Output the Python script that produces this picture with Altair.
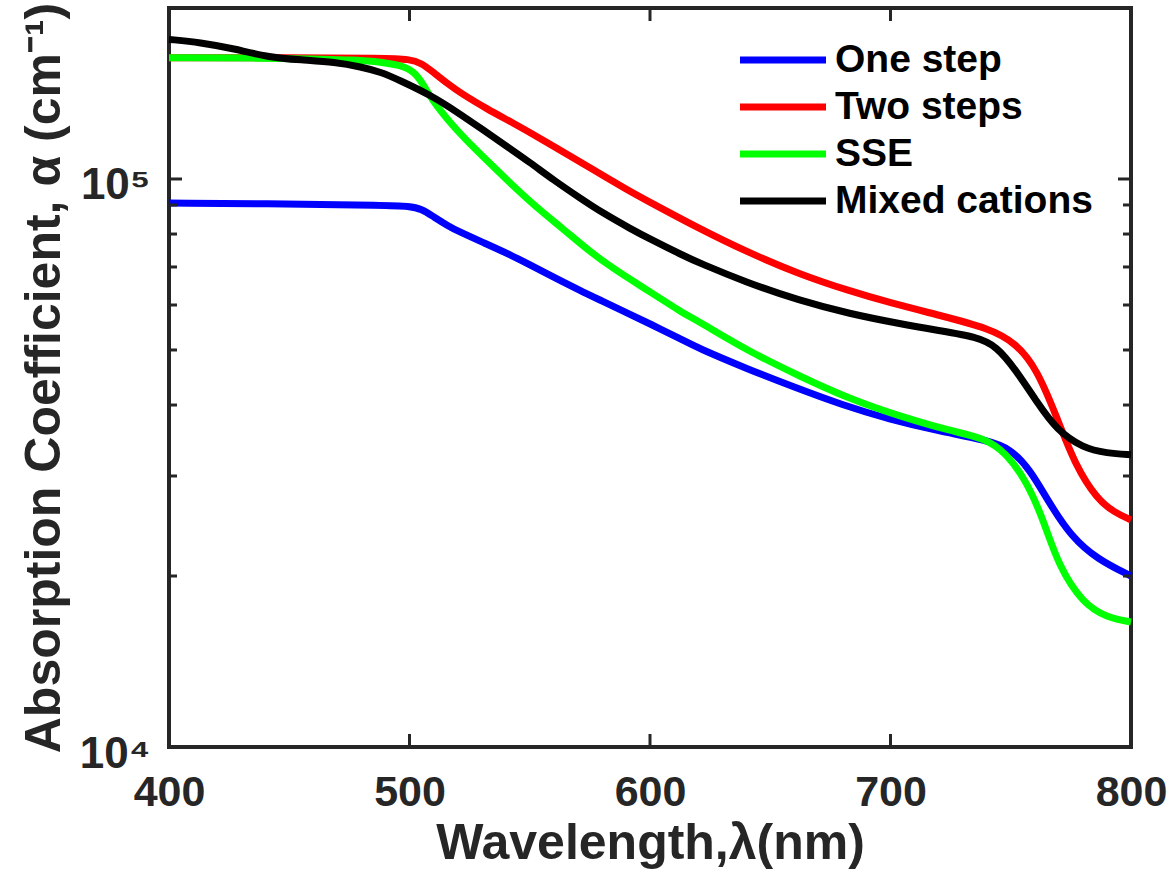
import altair as alt
import pandas as pd

# ---------------- data ----------------
series_names = ["One step", "Two steps", "SSE", "Mixed cations"]
series_colors = ["#0000FF", "#FF0000", "#00FF00", "#000000"]

one_wl = [400, 450, 490, 500, 505, 510, 516, 520, 530, 543, 550, 560, 571, 580, 590, 600,
          613, 620, 640, 660, 680, 700, 720, 740, 750, 758, 766, 775, 786, 800]
one_a = [90700, 90400, 89900, 89600, 88600, 85800, 82700, 81000, 77500, 73200, 70600, 67200,
         63600, 61000, 58200, 55600, 52200, 50400, 46400, 43000, 40000, 37700, 36000, 34700,
         33500, 30800, 26900, 23500, 21400, 20000]

two_wl = [400, 450, 490, 500, 505, 510, 516, 522, 532, 543, 555, 565, 577, 590, 600, 620,
          640, 662, 683, 700, 720, 741, 752, 761, 769, 777, 786, 793, 800]
two_a = [163500, 163500, 163300, 162500, 160000, 154000, 147000, 141000, 133000, 125500,
         117500, 110800, 103500, 96000, 91000, 82000, 74500, 68000, 63500, 60500, 57600,
         54600, 51500, 46200, 38200, 31200, 27300, 25900, 25100]

sse_wl = [400, 450, 480, 488, 495, 502, 506, 510, 516, 523, 533, 543, 553, 564, 575, 585,
          600, 613, 621, 640, 662, 683, 704, 725, 739, 748, 757, 764, 770, 780, 790, 800]
sse_a = [163500, 163200, 162000, 160600, 159000, 155000, 146000, 136600, 127000, 117700,
         107000, 97300, 89000, 81600, 74500, 69400, 63300, 58300, 55900, 50000, 45000,
         41000, 38200, 36000, 35000, 33000, 29200, 24800, 20800, 17900, 16900, 16600]

mix_wl = [400, 413, 427, 441, 455, 469, 480, 488, 496, 509, 520, 530, 540, 550, 560, 571,
          580, 592, 600, 613, 621, 640, 662, 683, 704, 720, 736, 744, 752, 761, 769, 780,
          790, 800]
mix_a = [176100, 174000, 169600, 163900, 162000, 160600, 157500, 154300, 149100, 140300,
         131000, 122500, 114500, 107000, 99500, 92500, 87300, 81700, 78400, 73600, 71000,
         65800, 61100, 57900, 55600, 54100, 52700, 50800, 46200, 40400, 36200, 33600,
         32900, 32700]

x_tick_values = [400, 500, 600, 700, 800]
y_major_ticks = [10000, 100000]
y_minor_ticks = [20000, 30000, 40000, 50000, 60000, 70000, 80000, 90000, 200000]

# ---------------- layout / style ----------------
W, H = 962, 739
FRAME = "#262626"
FONT = "Liberation Sans"
MAJ, MIN = 13, 8
LW = 7

rows = []
for name, wl, a in zip(series_names, [one_wl, two_wl, sse_wl, mix_wl], [one_a, two_a, sse_a, mix_a]):
    for w, v in zip(wl, a):
        rows.append({"series": name, "wl": w, "alpha": v})
df = pd.DataFrame(rows)

xscale = alt.Scale(domain=[400, 800], nice=False, zero=False)
yscale = alt.Scale(type="log", domain=[10000, 200000], nice=False)
cscale = alt.Scale(domain=series_names, range=series_colors)

x_axis = alt.Axis(values=x_tick_values, title="Wavelength,λ(nm)", grid=False,
                  ticks=False, domain=False, labelFlush=False, labelOverlap=False,
                  labelFontSize=43, labelFont=FONT, labelFontWeight="bold",
                  labelColor=FRAME, labelPadding=24,
                  titleFontSize=50, titleFont=FONT, titleFontWeight="bold",
                  titleColor=FRAME, titlePadding=4)

lines = alt.Chart(df).mark_line(strokeWidth=LW, interpolate="basis").encode(
    x=alt.X("wl:Q", scale=xscale, axis=x_axis),
    y=alt.Y("alpha:Q", scale=yscale,
            axis=alt.Axis(values=y_major_ticks, title="Absorption Coefficient, α (cm⁻¹)",
                          labelExpr="datum.value == 10000 ? '10⁴' : '10⁵'",
                          grid=False, ticks=False, domain=False, labelFlush=False,
                          labelOverlap=False, labelFontSize=44, labelFont=FONT,
                          labelFontWeight="bold", labelColor=FRAME, labelPadding=19,
                          labelOffset=7,
                          titleFontSize=50, titleFont=FONT, titleFontWeight="bold",
                          titleColor=FRAME, titlePadding=10)),
    color=alt.Color("series:N", scale=cscale, legend=None),
    order=alt.Order("wl:Q"),
)

def ytick_layer(vals, x0, x1):
    d = pd.DataFrame({"v": vals})
    return alt.Chart(d).mark_rule(color=FRAME, strokeWidth=3).encode(
        y=alt.Y("v:Q", scale=yscale, axis=None), x=alt.value(x0), x2=alt.value(x1))

def xtick_layer(vals, y0, y1):
    d = pd.DataFrame({"wl": vals})
    return alt.Chart(d).mark_rule(color=FRAME, strokeWidth=3).encode(
        x=alt.X("wl:Q", scale=xscale, axis=x_axis), y=alt.value(y0), y2=alt.value(y1))

ticks = [
    ytick_layer(y_major_ticks, 0, MAJ), ytick_layer(y_minor_ticks, 0, MIN),
    ytick_layer(y_major_ticks, W - MAJ, W), ytick_layer(y_minor_ticks, W - MIN, W),
    xtick_layer(x_tick_values, H - MAJ, H), xtick_layer(x_tick_values, 0, MAJ),
]

leg_df = pd.DataFrame({"series": series_names})
leg_y = alt.Y("series:N", sort=series_names, axis=None,
              scale=alt.Scale(type="point", range=[52, 193], padding=0))
leg_lines = alt.Chart(leg_df).mark_rule(strokeWidth=LW).encode(
    y=leg_y, x=alt.value(571), x2=alt.value(657),
    color=alt.Color("series:N", scale=cscale, legend=None))
leg_text = alt.Chart(leg_df).mark_text(align="left", baseline="middle", fontSize=39,
                                       font=FONT, fontWeight="bold", color="#000000").encode(
    y=leg_y, x=alt.value(666), text="series:N")

chart = alt.layer(lines, *ticks, leg_lines, leg_text).resolve_scale(
    y="independent"
).properties(
    width=W, height=H,
    autosize=alt.AutoSizeParams(type="none"),
    padding={"left": 169, "top": 8, "right": 1174 - 169 - W, "bottom": 875 - 8 - H},
    background="white",
).configure_view(stroke=FRAME, strokeWidth=4)

chart.save("out.html", embed_options={"renderer": "svg", "actions": False})
